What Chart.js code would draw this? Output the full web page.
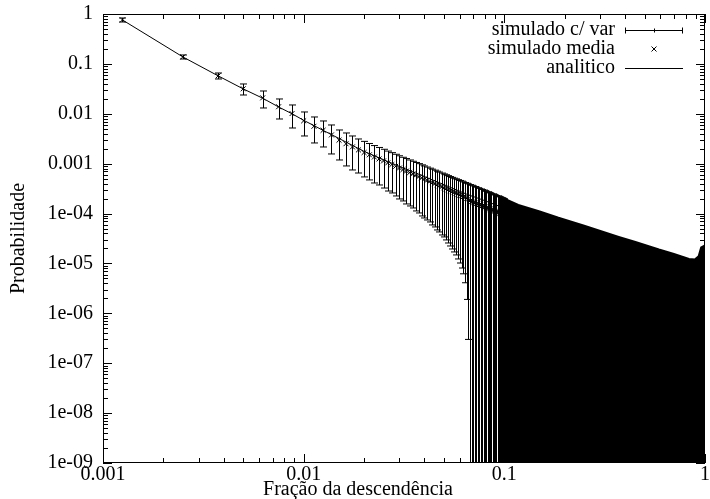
<!DOCTYPE html>
<html>
<head>
<meta charset="utf-8">
<title>Probabilidade x fração da descendência</title>
<script src="https://cdn.jsdelivr.net/npm/chart.js@4.4.1/dist/chart.umd.min.js"></script>
<style>
  html, body { margin: 0; padding: 0; background: #fff; }
  #caixa { width: 710px; height: 499px; }
</style>
</head>
<body>
<div id="caixa"><canvas id="grafico" width="710" height="499"></canvas></div>
<script>
// pontos simulados: fração k/800, média e desvio padrão
var fracaoSim = [
  0.00125, 0.0025, 0.00375, 0.005, 0.00625, 0.0075, 0.00875, 0.01, 0.01125, 0.0125,
  0.01375, 0.015, 0.01625, 0.0175, 0.01875, 0.02, 0.02125, 0.0225, 0.02375, 0.025,
  0.02625, 0.0275, 0.02875, 0.03, 0.03125, 0.0325, 0.03375, 0.035, 0.03625, 0.0375,
  0.03875, 0.04, 0.04125, 0.0425, 0.04375, 0.045, 0.04625, 0.0475, 0.04875, 0.05,
  0.05125, 0.0525, 0.05375, 0.055, 0.05625, 0.0575, 0.05875, 0.06, 0.06125, 0.0625,
  0.06375, 0.065, 0.06625, 0.0675, 0.06875, 0.07, 0.07125, 0.0725, 0.07375, 0.075,
  0.07625, 0.0775, 0.07875, 0.08, 0.08125, 0.0825, 0.08375, 0.085, 0.08625, 0.0875,
  0.08875, 0.09, 0.09125, 0.0925, 0.09375, 0.095, 0.09625, 0.0975, 0.09875, 0.1
];
var mediaSim = [
  0.7615, 0.1381, 0.05777, 0.03168, 0.02085, 0.01383, 0.0101, 0.00723, 0.005615, 0.004667,
  0.003765, 0.002961, 0.002511, 0.002169, 0.001888, 0.00167, 0.001506, 0.001358, 0.001243, 0.001134,
  0.001036, 0.0009599, 0.0008842, 0.0008176, 0.000761, 0.0007104, 0.000664, 0.0006233, 0.0005849, 0.0005514,
  0.0005178, 0.0004905, 0.0004647, 0.0004402, 0.0004175, 0.0003973, 0.0003771, 0.0003607, 0.0003425, 0.0003278,
  0.0003143, 0.0003002, 0.0002869, 0.0002755, 0.0002646, 0.0002553, 0.0002451, 0.0002354, 0.0002271, 0.000218,
  0.0002111, 0.0002033, 0.0001961, 0.000179, 0.0001734, 0.0001679, 0.0001634, 0.0001589, 0.0001546, 0.0001504,
  0.0001463, 0.0001423, 0.000139, 0.0001352, 0.0001315, 0.0001285, 0.000125, 0.0001222, 0.0001194, 0.0001167,
  0.000114, 0.0001109, 0.0001083, 0.0001064, 0.000104, 0.0001016, 0.0000993, 0.0000974, 0.0000952, 0.0000931
];
var desvioSim = [
  0.0702, 0.0128, 0.00794, 0.00788, 0.00778, 0.00597, 0.00491, 0.00364, 0.003015, 0.002506,
  0.0022, 0.001775, 0.001611, 0.001421, 0.001238, 0.001128, 0.001034, 0.000948, 0.000869, 0.000809,
  0.000753, 0.0007012, 0.0006589, 0.0006214, 0.000582, 0.0005547, 0.000522, 0.0004938, 0.0004721, 0.0004486,
  0.0004283, 0.0004089, 0.0003903, 0.0003723, 0.0003584, 0.0003434, 0.0003302, 0.0003179, 0.0003053, 0.0002938,
  0.0002847, 0.0002745, 0.0002645, 0.000256, 0.0002476, 0.0002405, 0.0002328, 0.0002252, 0.000219, 0.0002118,
  0.000207, 0.0002014, 0.0001958, 0.000202, 0.0001956, 0.0001894, 0.0001842, 0.0001792, 0.0001743, 0.0001695,
  0.0001649, 0.0001604, 0.0001568, 0.0001525, 0.0001483, 0.000145, 0.000141, 0.0001377, 0.0001346, 0.0001315,
  0.0001285, 0.000125, 0.0001222, 0.0001199, 0.0001172, 0.0001145, 0.0001119, 0.0001099, 0.0001074, 0.0001049
];

// acima de 0.1 as barras se fundem: topo das barras (média + desvio)
var fracaoDensa = [0.1, 0.1174, 0.15, 0.186, 0.25, 0.3715, 0.45, 0.589, 0.7, 0.832, 0.89, 0.93, 0.957, 1];
var topoDenso = [0.000198, 0.000149, 0.00011, 0.0000823, 0.000057, 0.000034, 0.0000269, 0.000019,
  0.0000155, 0.0000123, 0.000012, 0.000014, 0.000021, 0.000023];

// curva analítica
var fracaoAnalitico = [0.00125, 0.0025, 0.00375, 0.005, 0.00625, 0.0075, 0.00875, 0.01, 0.0125, 0.015,
  0.02, 0.03, 0.04, 0.05, 0.065, 0.08, 0.1, 0.15, 0.2, 0.3, 0.4, 0.6, 0.8, 1];
var probAnalitico = [0.76, 0.138, 0.0575, 0.0315, 0.0205, 0.0137, 0.01, 0.0074, 0.00465, 0.0032,
  0.00176, 0.00088, 0.00055, 0.00038, 0.000244, 0.000181, 0.000128, 0.0000697, 0.0000469, 0.0000266,
  0.0000184, 0.0000108, 0.0000075, 0.0000056];

var ticksX = [0.001, 0.01, 0.1, 1];
var rotulosX = ['0.001', '0.01', '0.1', '1'];
var ticksY = [1, 0.1, 0.01, 0.001, 1e-4, 1e-5, 1e-6, 1e-7, 1e-8, 1e-9];
var rotulosY = ['1', '0.1', '0.01', '0.001', '1e-04', '1e-05', '1e-06', '1e-07', '1e-08', '1e-09'];

var fonte = { family: 'Liberation Serif', size: 20 };

function pares(xs, ys) {
  return xs.map(function(x, i) { return { x: x, y: ys[i] }; });
}

// barras de erro dos pontos simulados
var barrasErro = {
  id: 'barrasErro',
  afterDatasetsDraw: function(chart) {
    var ctx = chart.ctx, area = chart.chartArea;
    var sx = chart.scales.x, sy = chart.scales.y;
    ctx.save();
    ctx.beginPath();
    ctx.rect(area.left, area.top, area.right - area.left, area.bottom - area.top);
    ctx.clip();
    ctx.strokeStyle = '#000';
    ctx.lineWidth = 1;
    for (var i = 0; i < fracaoSim.length; i++) {
      var px = Math.round(sx.getPixelForValue(fracaoSim[i])) + 0.5;
      var alto = sy.getPixelForValue(mediaSim[i] + desvioSim[i]);
      var inf = mediaSim[i] - desvioSim[i];
      var baixo = inf > sy.min ? sy.getPixelForValue(inf) : area.bottom + 2;
      ctx.beginPath();
      ctx.moveTo(px, alto);
      ctx.lineTo(px, baixo);
      ctx.moveTo(px - 3.5, alto);
      ctx.lineTo(px + 3.5, alto);
      if (inf > sy.min) {
        ctx.moveTo(px - 3.5, baixo);
        ctx.lineTo(px + 3.5, baixo);
      }
      ctx.stroke();
    }
    ctx.restore();
  }
};

// moldura com marcas para dentro nos quatro lados, como no gnuplot
var moldura = {
  id: 'moldura',
  afterDraw: function(chart) {
    var ctx = chart.ctx, a = chart.chartArea;
    var sx = chart.scales.x, sy = chart.scales.y;
    ctx.save();
    ctx.strokeStyle = '#000';
    ctx.lineWidth = 1;
    ctx.strokeRect(a.left + 0.5, a.top + 0.5, a.right - a.left - 1, a.bottom - a.top - 1);
    ctx.beginPath();
    var e, m, p, len;
    for (e = -3; e <= 0; e++) {
      for (m = 1; m <= 9; m++) {
        var vx = m * Math.pow(10, e);
        if (vx > 1.0001) break;
        p = Math.round(sx.getPixelForValue(vx)) + 0.5;
        len = m === 1 ? 9 : 5;
        ctx.moveTo(p, a.bottom); ctx.lineTo(p, a.bottom - len);
        ctx.moveTo(p, a.top); ctx.lineTo(p, a.top + len);
      }
    }
    for (e = -9; e <= 0; e++) {
      for (m = 1; m <= 9; m++) {
        var vy = m * Math.pow(10, e);
        if (vy > 1.0001) break;
        p = Math.round(sy.getPixelForValue(vy)) + 0.5;
        len = m === 1 ? 9 : 5;
        ctx.moveTo(a.left, p); ctx.lineTo(a.left + len, p);
        ctx.moveTo(a.right, p); ctx.lineTo(a.right - len, p);
      }
    }
    ctx.stroke();
    ctx.restore();
  }
};

// legenda à direita (texto alinhado à direita, amostra ao lado) e título do eixo x
var legenda = {
  id: 'legenda',
  afterDraw: function(chart) {
    var ctx = chart.ctx;
    var xt = 615, x0 = 625, x1 = 683, xm = 654;
    var linhas = [30, 49, 68];
    ctx.save();
    ctx.font = fonte.size + 'px ' + fonte.family;
    ctx.fillStyle = '#000';
    ctx.textAlign = 'right';
    ctx.textBaseline = 'middle';
    ctx.fillText('simulado c/ var', xt, linhas[0]);
    ctx.fillText('simulado media', xt, linhas[1]);
    ctx.fillText('analitico', xt, linhas[2]);
    ctx.strokeStyle = '#000';
    ctx.lineWidth = 1;
    ctx.beginPath();
    var y = linhas[0] + 0.5;
    ctx.moveTo(x0, y); ctx.lineTo(x1, y);
    ctx.moveTo(x0 + 0.5, y - 3); ctx.lineTo(x0 + 0.5, y + 3);
    ctx.moveTo(x1 - 0.5, y - 3); ctx.lineTo(x1 - 0.5, y + 3);
    ctx.moveTo(xm + 0.5, y - 2); ctx.lineTo(xm + 0.5, y + 2);
    y = linhas[1];
    ctx.moveTo(xm - 2.5, y - 2.5); ctx.lineTo(xm + 2.5, y + 2.5);
    ctx.moveTo(xm - 2.5, y + 2.5); ctx.lineTo(xm + 2.5, y - 2.5);
    y = linhas[2] + 0.5;
    ctx.moveTo(x0, y); ctx.lineTo(x1, y);
    ctx.stroke();

    ctx.textAlign = 'center';
    ctx.fillText('Fração da descendência', 358, 490);
    ctx.restore();
  }
};

new Chart(document.getElementById('grafico'), {
  type: 'scatter',
  data: {
    datasets: [
      {
        label: 'analitico',
        data: pares(fracaoAnalitico, probAnalitico),
        showLine: true,
        borderColor: '#000',
        borderWidth: 1,
        pointRadius: 0
      },
      {
        label: 'simulado media',
        data: pares(fracaoSim, mediaSim),
        pointStyle: 'crossRot',
        pointRadius: 3.5,
        borderColor: '#000',
        backgroundColor: '#000',
        borderWidth: 1
      },
      {
        label: 'simulado c/ var',
        data: pares(fracaoDensa, topoDenso),
        showLine: true,
        fill: 'start',
        borderColor: '#000',
        backgroundColor: '#000',
        borderWidth: 2,
        pointRadius: 0
      }
    ]
  },
  options: {
    responsive: false,
    animation: false,
    devicePixelRatio: 1,
    layout: { padding: { left: 0, right: 4, top: 14, bottom: 0 } },
    plugins: { legend: { display: false }, tooltip: { enabled: false } },
    scales: {
      x: {
        type: 'logarithmic',
        min: 0.001,
        max: 1,
        grid: { display: false, drawTicks: false },
        border: { display: false },
        afterBuildTicks: function(s) { s.ticks = ticksX.map(function(v) { return { value: v }; }); },
        afterFit: function(s) { s.height = 36; s.paddingLeft = 0; s.paddingRight = 0; },
        ticks: {
          color: '#000',
          font: fonte,
          padding: 0,
          maxRotation: 0,
          autoSkip: false,
          callback: function(v) { return rotulosX[ticksX.indexOf(v)]; }
        }
      },
      y: {
        type: 'logarithmic',
        min: 1e-9,
        max: 1,
        grid: { display: false, drawTicks: false },
        border: { display: false },
        afterBuildTicks: function(s) { s.ticks = ticksY.map(function(v) { return { value: v }; }); },
        afterFit: function(s) { s.width = 103; s.paddingTop = 0; s.paddingBottom = 0; },
        ticks: {
          color: '#000',
          font: fonte,
          padding: 10,
          autoSkip: false,
          callback: function(v) { return rotulosY[ticksY.indexOf(v)]; }
        },
        title: {
          display: true,
          text: 'Probabilidade',
          color: '#000',
          font: fonte,
          padding: { top: 7, bottom: 0 }
        }
      }
    }
  },
  plugins: [barrasErro, moldura, legenda]
});
</script>
</body>
</html>
